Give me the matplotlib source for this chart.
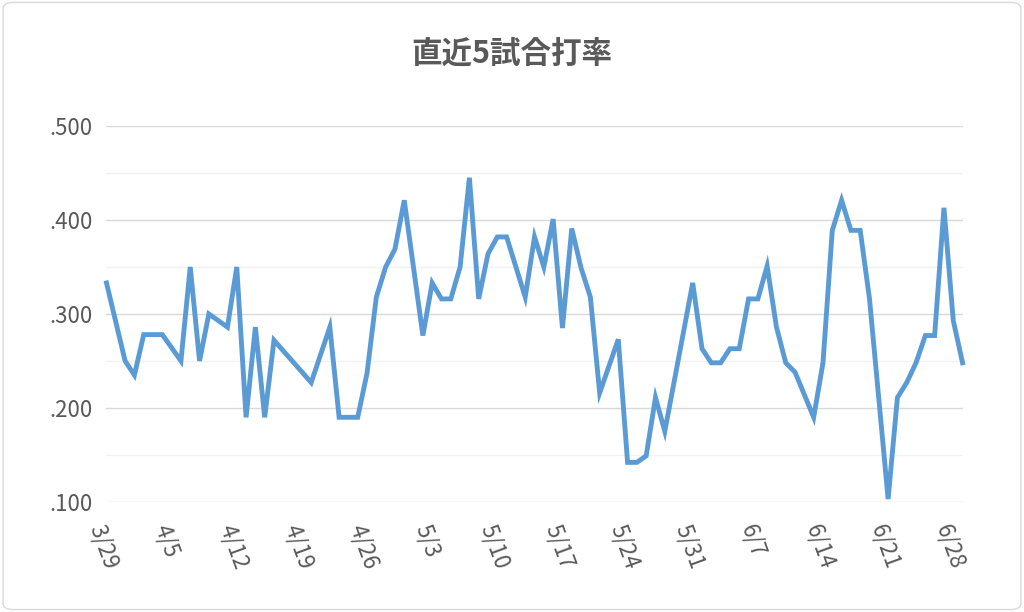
import matplotlib
matplotlib.use("Agg")
import matplotlib.pyplot as plt
import matplotlib.ticker as mticker
from matplotlib.patches import FancyBboxPatch
import datetime as dt

plt.rcParams['font.family'] = ['Noto Sans CJK JP', 'DejaVu Sans']

start = dt.date(2000, 3, 29)
day_offsets = [0, 2, 3, 4, 6, 8, 9, 10, 11, 13, 14, 15, 16, 17, 18, 22, 24, 25, 27, 28,
               29, 30, 31, 32, 34, 35, 36, 37, 38, 39, 40, 41, 42, 43, 45, 46, 47, 48, 49, 50,
               51, 52, 53, 55, 56, 57, 58, 59, 60, 63, 64, 65, 66, 67, 68, 69, 70, 71, 72, 73,
               74, 76, 77, 78, 79, 80, 81, 82, 84, 85, 86, 87, 88, 89, 90, 91, 92]
averages = [.333, .250, .235, .278, .278, .250, .350, .250, .300, .286, .350, .190, .286, .190, .272, .227, .286, .190, .190, .237,
            .318, .350, .369, .421, .277, .333, .316, .316, .350, .445, .316, .364, .382, .382, .318, .382, .350, .401, .285, .391,
            .349, .318, .216, .273, .142, .142, .149, .211, .175, .333, .263, .248, .248, .263, .263, .316, .316, .351, .286, .248,
            .238, .190, .248, .389, .421, .389, .389, .316, .103, .211, .227, .248, .277, .277, .413, .293, .248]
dates = [start + dt.timedelta(days=d) for d in day_offsets]
tick_dates = [start + dt.timedelta(days=7 * i) for i in range(14)]
tick_labels = [f"{d.month}/{d.day}" for d in tick_dates]
title = "直近5試合打率"

fig = plt.figure(figsize=(10.24, 6.12), dpi=100)
ax = fig.add_axes([0.104, 0.18, 0.836, 0.614])
fig.patches.append(FancyBboxPatch((0.003, 0.004), 0.994, 0.992, boxstyle="round,pad=0,rounding_size=0.01",
                                  transform=fig.transFigure, fill=False, edgecolor="#d9d9d9", lw=1))

ax.plot(dates, averages, color="#5b9bd5", lw=3.5, solid_joinstyle='miter', zorder=3, clip_on=False)
ax.set_ylim(0.1, 0.5)
ax.set_xlim(dates[0], dates[-1])
ax.yaxis.set_major_locator(mticker.MultipleLocator(0.1))
ax.yaxis.set_minor_locator(mticker.MultipleLocator(0.05))
ax.yaxis.set_major_formatter(mticker.FuncFormatter(lambda v, p: f"{v:.3f}"[1:]))
ax.grid(which='major', axis='y', color="#d9d9d9", lw=1)
ax.grid(which='minor', axis='y', color="#f2f2f2", lw=1)
ax.set_xticks(tick_dates)
ax.set_xticklabels(tick_labels, rotation=-70, ha='left', va='top', rotation_mode='anchor')
for s in ax.spines.values():
    s.set_visible(False)
ax.tick_params(axis='both', which='both', length=0, labelsize=16, colors="#595959")
ax.tick_params(axis='y', pad=10)
ax.tick_params(axis='x', pad=14)
fig.text(0.5, 0.91, title, ha='center', va='center', fontsize=22, fontweight='bold', color="#595959")
fig.savefig("out.png", dpi=100, facecolor="white")
